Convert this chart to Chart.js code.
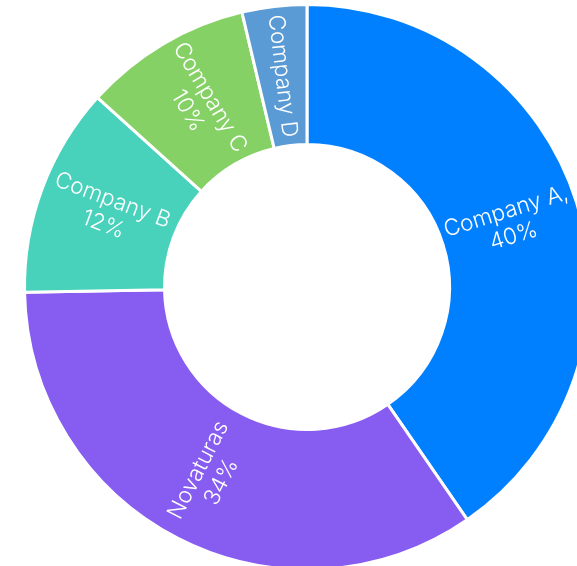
<!DOCTYPE html>
<html><head><meta charset="utf-8">
<script src="https://cdn.jsdelivr.net/npm/chart.js@4"></script>
<style>
html,body{margin:0;padding:0;overflow:hidden;background:#fff;width:577px;height:566px}
#wrap{position:absolute;left:0;top:0;width:614px;height:574px}
</style></head>
<body><div id="wrap"><canvas id="c" width="614" height="574"></canvas></div>
<script>
const categories = ['Company A,', 'Novaturas', 'Company B', 'Company C', 'Company D'];
const shares = [40.4, 34.3, 12.0, 9.6, 3.7];
const percentLabels = ['40%', '34%', '12%', '10%', ''];
const colors = ['#0080ff', '#875cf0', '#48d1bb', '#85d165', '#5b9bd5'];

const sliceLabels = {
  id: 'sliceLabels',
  afterDatasetsDraw(chart) {
    const ctx = chart.ctx;
    const meta = chart.getDatasetMeta(0);
    ctx.save();
    ctx.fillStyle = '#ffffff';
    ctx.font = '300 22.5px Inter, "Liberation Sans", Arial, sans-serif';
    ctx.textAlign = 'center';
    ctx.textBaseline = 'middle';
    meta.data.forEach((arc, i) => {
      const p = arc.getProps(['x', 'y', 'startAngle', 'endAngle', 'innerRadius', 'outerRadius'], true);
      const mid = (p.startAngle + p.endAngle) / 2;
      const r = (p.innerRadius + p.outerRadius) / 2;
      const cx = p.x + Math.cos(mid) * r;
      const cy = p.y + Math.sin(mid) * r;
      let rot = mid;
      if (Math.cos(mid) < 0) rot += Math.PI;
      const lines = [categories[i]];
      if (percentLabels[i]) lines.push(percentLabels[i]);
      const lh = 26;
      ctx.save();
      ctx.translate(cx, cy);
      ctx.rotate(rot);
      lines.forEach((t, k) => {
        ctx.fillText(t, 0, (k - (lines.length - 1) / 2) * lh);
      });
      ctx.restore();
    });
    ctx.restore();
  }
};

new Chart(document.getElementById('c'), {
  type: 'doughnut',
  data: {
    labels: categories,
    datasets: [{
      data: shares,
      backgroundColor: colors,
      borderColor: '#ffffff',
      borderWidth: 3
    }]
  },
  options: {
    responsive: false,
    animation: false,
    radius: 282.5,
    cutout: '50.44%',
    layout: { padding: 0 },
    plugins: { legend: { display: false }, tooltip: { enabled: false } }
  },
  plugins: [sliceLabels]
});
</script>
</body></html>
